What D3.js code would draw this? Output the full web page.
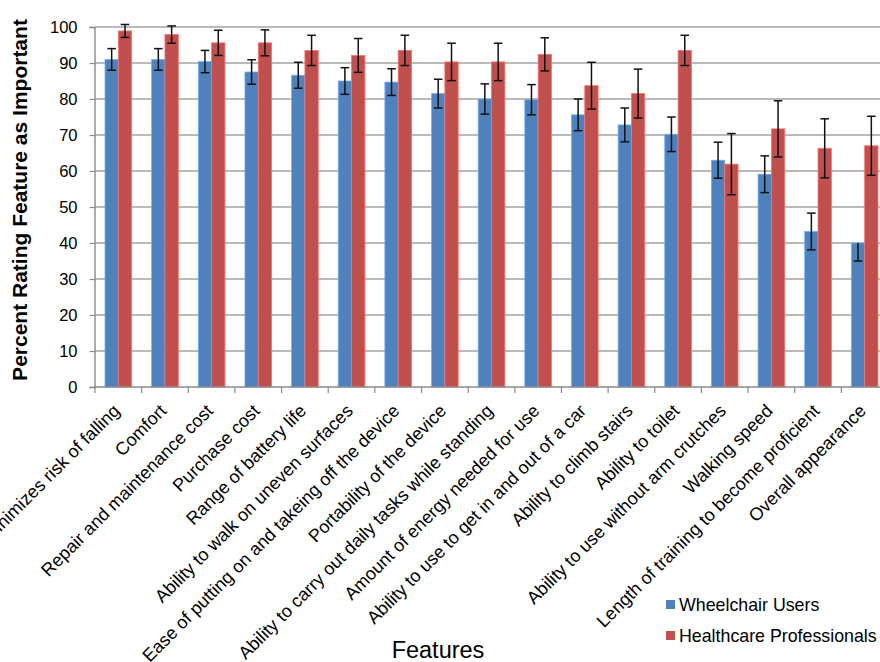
<!DOCTYPE html>
<html>
<head>
<meta charset="utf-8">
<script src="https://cdn.jsdelivr.net/npm/d3@7"></script>
<style>
  html, body { margin: 0; padding: 0; background: #fff; }
  svg { display: block; font-family: "Liberation Sans", Arial, sans-serif; }
</style>
</head>
<body>
<svg id="chart" width="880" height="662"></svg>
<script>
const features = [
  "Minimizes risk of falling", "Comfort", "Repair and maintenance cost", "Purchase cost",
  "Range of battery life", "Ability to walk on uneven surfaces",
  "Ease of putting on and takeing off the device", "Portability of the device",
  "Ability to carry out daily tasks while standing", "Amount of energy needed for use",
  "Ability to use to get in and out of a car", "Ability to climb stairs", "Ability to toilet",
  "Ability to use without arm crutches", "Walking speed",
  "Length of training to become proficient", "Overall appearance"
];
const seriesNames = ["Wheelchair Users", "Healthcare Professionals"];
const wheelchairUsers = [91.0, 91.0, 90.4, 87.5, 86.6, 85.0, 84.7, 81.5, 80.0, 79.8, 75.6, 72.8, 70.2, 63.0, 59.1, 43.2, 40.0];
const wheelchairErrPlus = [3.0, 3.0, 3.1, 3.4, 3.6, 3.7, 3.7, 4.0, 4.2, 4.2, 4.4, 4.7, 4.8, 5.0, 5.1, 5.1, 0];
const wheelchairErrMinus = [3.0, 3.0, 3.1, 3.4, 3.6, 3.7, 3.7, 4.0, 4.2, 4.2, 4.4, 4.7, 4.8, 5.0, 5.1, 5.1, 5.0];
const healthcarePros = [98.9, 97.9, 95.6, 95.6, 93.5, 92.1, 93.5, 90.3, 90.3, 92.4, 83.7, 81.5, 93.5, 61.9, 71.7, 66.3, 67.0];
const healthcareErr = [1.8, 2.4, 3.5, 3.6, 4.2, 4.7, 4.2, 5.2, 5.2, 4.6, 6.5, 6.8, 4.2, 8.5, 7.8, 8.2, 8.2];
const yTicks = [0, 10, 20, 30, 40, 50, 60, 70, 80, 90, 100];

const colors = ["#4F81BD", "#C0504D"];
const svg = d3.select("#chart");
const mLeft = 95, mRight = 888, mTop = 27, mBottom = 387;

const x = d3.scaleBand().domain(features).range([mLeft, mRight])
  .paddingInner(3 / 7).paddingOuter(1.5 / 7);
const xs = d3.scaleBand().domain(seriesNames).range([0, x.bandwidth()]);
const y = d3.scaleLinear().domain([0, 100]).range([mBottom, mTop]);

// gridlines
svg.append("g").selectAll("line").data(yTicks.filter(d => d > 0)).join("line")
  .attr("x1", mLeft).attr("x2", mRight)
  .attr("y1", d => y(d)).attr("y2", d => y(d))
  .attr("stroke", "#a3a3a3").attr("stroke-width", 1.4);

// y axis
const yAxis = svg.append("g").attr("transform", `translate(${mLeft - 0.5},0)`)
  .call(d3.axisLeft(y).tickValues(yTicks).tickSize(5).tickPadding(12).tickFormat(d3.format("d")));
yAxis.select(".domain").attr("stroke", "#8a8a8a").attr("stroke-width", 1.4);
yAxis.selectAll(".tick line").attr("stroke", "#8a8a8a").attr("stroke-width", 1.2);
yAxis.selectAll(".tick text").attr("font-size", 16.5).attr("fill", "#000")
  .attr("font-family", "Liberation Sans, Arial, sans-serif");

const rows = features.map((f, i) => ({
  f,
  vals: [
    { s: seriesNames[0], v: wheelchairUsers[i], ep: wheelchairErrPlus[i], em: wheelchairErrMinus[i] },
    { s: seriesNames[1], v: healthcarePros[i], ep: healthcareErr[i], em: healthcareErr[i] }
  ]
}));

const groups = svg.append("g").selectAll("g").data(rows).join("g")
  .attr("transform", d => `translate(${x(d.f)},0)`);

groups.selectAll("rect").data(d => d.vals).join("rect")
  .attr("x", d => xs(d.s)).attr("width", xs.bandwidth())
  .attr("y", d => y(d.v)).attr("height", d => y(0) - y(d.v))
  .attr("fill", (d, i) => colors[i])
  .attr("stroke", (d, i) => d3.color(colors[i]).brighter(0.9))
  .attr("stroke-width", 0.8);

// bottom axis
const xAxisG = svg.append("g");
xAxisG.append("line").attr("x1", mLeft - 1).attr("x2", mRight).attr("y1", mBottom).attr("y2", mBottom)
  .attr("stroke", "#8a8a8a").attr("stroke-width", 1.4);
const boundaries = features.map(f => x(f) - x.step() * x.paddingInner() / 2);
xAxisG.selectAll("line.tk").data(boundaries).join("line").attr("class", "tk")
  .attr("x1", d => d).attr("x2", d => d).attr("y1", mBottom).attr("y2", mBottom + 6)
  .attr("stroke", "#8a8a8a").attr("stroke-width", 1.2);

// error bars
const eb = groups.selectAll("g.eb").data(d => d.vals).join("g").attr("class", "eb")
  .attr("transform", d => `translate(${xs(d.s) + xs.bandwidth() / 2},0)`);
eb.append("line").attr("x1", 0).attr("x2", 0)
  .attr("y1", d => y(d.v + d.ep)).attr("y2", d => y(d.v - d.em))
  .attr("stroke", "#111").attr("stroke-width", 1.5);
eb.filter(d => d.ep > 0).append("line").attr("x1", -4.3).attr("x2", 4.3)
  .attr("y1", d => y(d.v + d.ep)).attr("y2", d => y(d.v + d.ep))
  .attr("stroke", "#111").attr("stroke-width", 1.5);
eb.append("line").attr("x1", -4.3).attr("x2", 4.3)
  .attr("y1", d => y(d.v - d.em)).attr("y2", d => y(d.v - d.em))
  .attr("stroke", "#111").attr("stroke-width", 1.5);

// category labels
svg.append("g").selectAll("text").data(features).join("text")
  .attr("transform", d => `translate(${x(d) + x.bandwidth() / 2 + 2.5},412) rotate(-45)`)
  .attr("text-anchor", "end").attr("font-size", 18).attr("fill", "#000")
  .text(d => d);

// y title
svg.append("text").attr("transform", "translate(27,200) rotate(-90)")
  .attr("text-anchor", "middle").attr("font-size", 21).attr("font-weight", "bold")
  .text("Percent Rating Feature as Important");

// x title
svg.append("text").attr("x", 438).attr("y", 658).attr("text-anchor", "middle")
  .attr("font-size", 23.5).text("Features");

// legend
const lg = svg.append("g").selectAll("g").data(seriesNames).join("g")
  .attr("transform", (d, i) => `translate(666,${600 + i * 31})`);
lg.append("rect").attr("width", 9).attr("height", 9).attr("fill", (d, i) => colors[i]);
lg.append("text").attr("x", 13).attr("y", 10.5).attr("font-size", 17.8).text(d => d);
</script>
</body>
</html>
